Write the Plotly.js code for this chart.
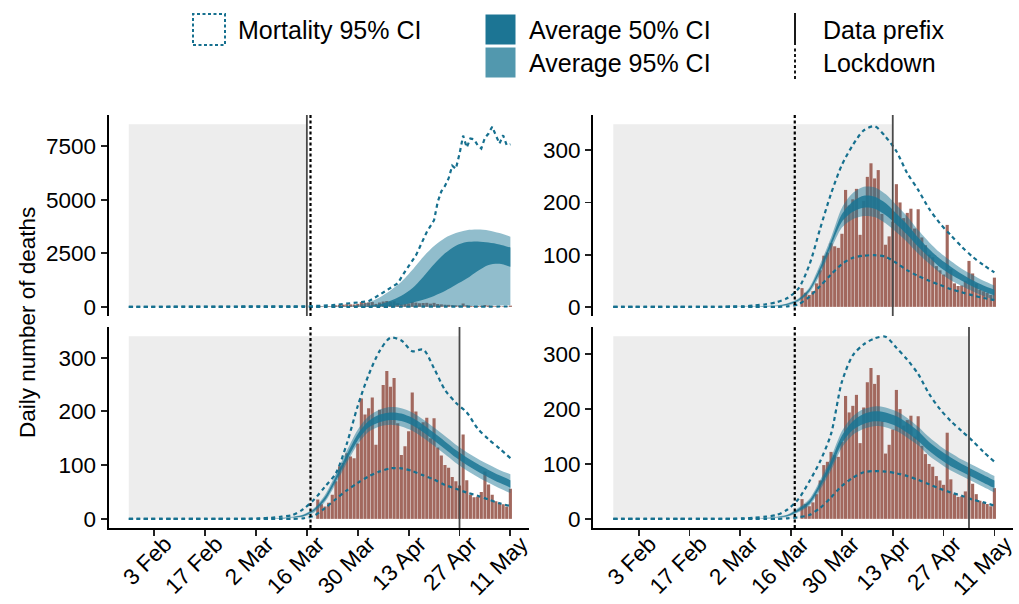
<!DOCTYPE html>
<html><head><meta charset="utf-8">
<script src="https://cdn.plot.ly/plotly-3.0.1.min.js"></script>
<style>html,body{margin:0;padding:0;background:#fff}#chart{width:1019px;height:604px}</style>
</head><body><div id="chart"></div>
<script>
// ---------- data ----------
const barDates = ['2020-03-19','2020-03-20','2020-03-21','2020-03-22','2020-03-23','2020-03-24','2020-03-25','2020-03-26','2020-03-27','2020-03-28','2020-03-29','2020-03-30','2020-03-31',
'2020-04-01','2020-04-02','2020-04-03','2020-04-04','2020-04-05','2020-04-06','2020-04-07','2020-04-08','2020-04-09','2020-04-10','2020-04-11','2020-04-12','2020-04-13','2020-04-14','2020-04-15',
'2020-04-16','2020-04-17','2020-04-18','2020-04-19','2020-04-20','2020-04-21','2020-04-22','2020-04-23','2020-04-24','2020-04-25','2020-04-26','2020-04-27','2020-04-28','2020-04-29','2020-04-30',
'2020-05-01','2020-05-02','2020-05-03','2020-05-04','2020-05-05','2020-05-06','2020-05-07','2020-05-08','2020-05-09','2020-05-10','2020-05-11'];
const observedDeaths = [36,27,23,30,45,70,98,104,122,116,113,140,224,194,206,226,138,203,249,275,246,262,178,119,135,163,235,200,170,180,188,150,187,133,118,100,95,78,70,62,157,72,45,40,41,50,88,64,45,33,30,27,23,56];

const curveDates = ['2020-01-27','2020-01-30','2020-02-02','2020-02-05','2020-02-08','2020-02-11','2020-02-14','2020-02-17','2020-02-20','2020-02-23','2020-02-26','2020-02-29',
'2020-03-03','2020-03-06','2020-03-09','2020-03-12','2020-03-15','2020-03-18','2020-03-21','2020-03-24','2020-03-27','2020-03-30','2020-04-02','2020-04-05',
'2020-04-08','2020-04-11','2020-04-14','2020-04-17','2020-04-20','2020-04-23','2020-04-26','2020-04-29','2020-05-02','2020-05-05','2020-05-08','2020-05-11'];

// panel 1 (prefix 16 Mar)
const p1HiDates = ['2020-01-27','2020-02-15','2020-03-01','2020-03-10','2020-03-17','2020-03-23','2020-03-28','2020-04-02','2020-04-04','2020-04-07','2020-04-10','2020-04-12','2020-04-15','2020-04-18',
'2020-04-20','2020-04-21','2020-04-22','2020-04-23','2020-04-24','2020-04-25','2020-04-26','2020-04-27','2020-04-28','2020-04-29','2020-04-30','2020-05-01','2020-05-02','2020-05-03','2020-05-04',
'2020-05-05','2020-05-06','2020-05-07','2020-05-08','2020-05-09','2020-05-10','2020-05-11'];
const p1MortHi = [0,0,2,8,30,78,160,260,460,780,1100,1650,2400,3500,4050,4900,5400,5650,6000,6600,6450,7150,8000,7450,7870,7830,7550,7400,7900,8100,8420,8020,7630,8020,7560,7600];
const p1MortLo = [0,0,0,0,0,0,0,0,0,0,0,0,0,0,0,0,0,0,0,0,1,2,2,3,4,5,6,8,9,10,12,13,14,15,16,17];
const p1Ci95Hi = [0,0,0,0,0,0,0,0,0,0,0,0,0,0,0,0,2,8,15,25,40,90,200,440,760,1170,1720,2330,2840,3220,3450,3580,3610,3570,3450,3280];
const p1Ci95Lo = [0,0,0,0,0,0,0,0,0,0,0,0,0,0,0,0,0,0,0,0,0,0,0,0,0,0,0,0,10,18,28,38,50,58,66,70];
const p1Ci50Hi = [0,0,0,0,0,0,0,0,0,0,0,0,0,0,0,0,0,0,0,3,5,15,45,120,290,520,870,1400,1990,2500,2860,3030,3060,3010,2920,2770];
const p1Ci50Lo = [0,0,0,0,0,0,0,0,0,0,0,0,0,0,0,0,0,0,0,0,0,5,10,20,40,90,190,330,510,740,1030,1320,1680,1960,2010,1870];

// panel 2 (prefix 13 Apr)
const p2MortHi = [0,0,0,0,0,0,0,0,0,0,0,1,1,3,5,9,17,35,80,150,217,272,310,338,346,326,298,256,224,188,160,137,115,96,80,66];
const p2MortLo = [0,0,0,0,0,0,0,0,0,0,0,0,0,0,0,0,1,5,19,40,62,82,94,98,99,96,84,70,59,50,42,34,28,22,17,13];
const p2Ci95Hi = [0,0,0,0,0,0,0,0,0,0,0,0,1,1,2,3,7,16,37,82,133,190,218,230,229,216,195,173,147,124,104,88,73,61,50,41];
const p2Ci95Lo = [0,0,0,0,0,0,0,0,0,0,0,0,0,0,0,1,3,10,27,62,110,152,168,174,172,160,143,124,102,83,65,51,40,30,21,14];
const p2Ci50Hi = [0,0,0,0,0,0,0,0,0,0,0,0,0,0,1,2,6,14,34,76,126,178,202,213,211,199,179,158,133,111,92,77,63,51,41,33];
const p2Ci50Lo = [0,0,0,0,0,0,0,0,0,0,0,0,0,0,1,2,4,12,30,68,117,163,182,190,188,176,158,138,115,95,76,62,50,39,30,22];

// panel 3 (prefix 27 Apr)
const p3MortHi = [0,0,0,0,0,0,0,0,0,0,0,0,1,2,4,7,18,36,60,85,140,210,268,312,337,332,312,315,280,240,216,198,168,148,131,113];
const p3MortLo = [0,0,0,0,0,0,0,0,0,0,0,0,0,0,0,0,1,6,20,37,53,67,79,88,94,94,89,81,73,63,56,49,43,36,29,24];
const p3Ci95Hi = [0,0,0,0,0,0,0,0,0,0,0,0,0,0,2,4,8,20,45,84,127,166,191,203,208,206,198,185,170,154,138,124,112,101,91,83];
const p3Ci95Lo = [0,0,0,0,0,0,0,0,0,0,0,0,0,0,0,2,4,12,32,66,104,139,162,172,175,172,164,151,136,120,104,90,78,67,57,48];
const p3Ci50Hi = [0,0,0,0,0,0,0,0,0,0,0,0,0,0,1,3,7,18,41,79,120,158,182,194,198,196,188,175,160,144,128,114,102,91,81,72];
const p3Ci50Lo = [0,0,0,0,0,0,0,0,0,0,0,0,0,0,1,3,5,15,35,71,110,146,170,180,184,182,174,161,146,130,114,100,88,77,67,58];

// panel 4 (prefix 4 May)
const p4MortHi = [0,0,0,0,0,0,0,0,0,0,0,0,1,2,4,7,17,36,68,105,155,250,298,318,329,332,312,290,264,228,200,178,160,142,122,104];
const p4MortLo = [0,0,0,0,0,0,0,0,0,0,0,0,0,0,0,0,1,3,7,20,39,60,75,85,87,86,83,78,71,63,55,48,42,35,30,24];
const p4Ci95Hi = [0,0,0,0,0,0,0,0,0,0,0,0,0,0,2,4,8,20,36,71,112,160,187,200,205,203,196,184,168,149,133,120,108,98,88,78];
const p4Ci95Lo = [0,0,0,0,0,0,0,0,0,0,0,0,0,0,0,2,4,12,24,53,88,130,153,164,169,167,160,148,134,115,101,88,78,68,58,48];
const p4Ci50Hi = [0,0,0,0,0,0,0,0,0,0,0,0,0,0,1,3,7,18,33,66,106,152,178,191,196,194,187,175,160,140,125,112,100,90,80,70];
const p4Ci50Lo = [0,0,0,0,0,0,0,0,0,0,0,0,0,0,1,3,5,14,27,58,94,138,162,173,178,176,169,157,142,124,109,96,86,76,66,56];

const prefixDates = ['2020-03-16','2020-04-13','2020-04-27','2020-05-04'];
const lockdownDate = '2020-03-17';
const greyStart = '2020-01-27';
const greyTops = [8540, 350, 340, 333];

const xTickDates = ['2020-02-03','2020-02-17','2020-03-02','2020-03-16','2020-03-30','2020-04-13','2020-04-27','2020-05-11'];
const xTickLabels = ['3 Feb','17 Feb','2 Mar','16 Mar','30 Mar','13 Apr','27 Apr','11 May'];
const yTicksTop = [0,2500,5000,7500];
const yTicksOther = [0,100,200,300];

const legendLabels = ['Mortality 95% CI','Average 50% CI','Average 95% CI','Data prefix','Lockdown'];
const yTitle = 'Daily number of deaths';

// ---------- styles ----------
const W = 1019, H = 604;
const PX = v => v / W, PY = v => 1 - v / H;
const FONT = 'Liberation Sans, Arial, Helvetica, sans-serif';
const teal = '#16708f';
const fill95 = 'rgba(26,117,148,0.48)';
const fill50 = 'rgba(26,117,148,0.85)';
const barColor = '#a2685e';
const mortDash = '4px,3.5px';
const TICK_SIZE = 22.5;

const panels = [
  {xa:'x', ya:'y', hiX:p1HiDates, hi:p1MortHi, lo:p1MortLo, c95h:p1Ci95Hi, c95l:p1Ci95Lo, c50h:p1Ci50Hi, c50l:p1Ci50Lo},
  {xa:'x2', ya:'y2', hiX:curveDates, hi:p2MortHi, lo:p2MortLo, c95h:p2Ci95Hi, c95l:p2Ci95Lo, c50h:p2Ci50Hi, c50l:p2Ci50Lo},
  {xa:'x3', ya:'y3', hiX:curveDates, hi:p3MortHi, lo:p3MortLo, c95h:p3Ci95Hi, c95l:p3Ci95Lo, c50h:p3Ci50Hi, c50l:p3Ci50Lo},
  {xa:'x4', ya:'y4', hiX:curveDates, hi:p4MortHi, lo:p4MortLo, c95h:p4Ci95Hi, c95l:p4Ci95Lo, c50h:p4Ci50Hi, c50l:p4Ci50Lo}
];

const traces = [];
panels.forEach((p, i) => {
  traces.push({type:'bar', x:barDates, y:observedDeaths, xaxis:p.xa, yaxis:p.ya,
    width: 0.86*86400000, marker:{color:barColor, line:{width:0}}, hoverinfo:'skip', showlegend:false});
  const band = (lo, hi, col) => {
    traces.push({type:'scatter', mode:'lines', x:curveDates, y:lo, xaxis:p.xa, yaxis:p.ya,
      line:{width:0, shape:'spline', smoothing:0.8}, hoverinfo:'skip', showlegend:false});
    traces.push({type:'scatter', mode:'lines', x:curveDates, y:hi, xaxis:p.xa, yaxis:p.ya, fill:'tonexty', fillcolor:col,
      line:{width:0, shape:'spline', smoothing:0.8}, hoverinfo:'skip', showlegend:false});
  };
  band(p.c95l, p.c95h, fill95);
  band(p.c50l, p.c50h, fill50);
  traces.push({type:'scatter', mode:'lines', x:curveDates, y:p.lo, xaxis:p.xa, yaxis:p.ya,
    line:{color:teal, width:2.2, dash:mortDash, shape:'spline', smoothing:0.8}, hoverinfo:'skip', showlegend:false});
  traces.push({type:'scatter', mode:'lines', x:p.hiX, y:p.hi, xaxis:p.xa, yaxis:p.ya,
    line:{color:teal, width:2.2, dash:mortDash, shape: i===0 ? 'linear' : 'spline', smoothing:0.8}, hoverinfo:'skip', showlegend:false});
});

const xRange = ['2020-01-21 10:00','2020-05-16 03:00'];
const colL = [PX(108.5), PX(529)], colR = [PX(593), PX(1013)];
const rowT = [PY(316), PY(115)], rowB = [PY(528), PY(327)];
const yRanges = [[-427, 8967], [-17.5, 367.5], [-17, 357], [-16.7, 349.7]];

function xAxis(domain, anchor, bottom){
  return {domain, anchor, type:'date', range:xRange, showgrid:false, zeroline:false,
    showline:bottom, linecolor:'#000', linewidth:2,
    ticks: bottom ? 'outside' : '', ticklen:6, tickwidth:1.8, tickcolor:'#222',
    tickmode:'array', tickvals:xTickDates, ticktext:xTickLabels, showticklabels:bottom,
    tickangle:-45, ticklabelstandoff:-14, ticklabelshift:11,
    tickfont:{family:FONT, size:TICK_SIZE, color:'#000'}, fixedrange:true};
}
function yAxis(domain, anchor, range, tv){
  return {domain, anchor, range, showgrid:false, zeroline:false, showline:true, linecolor:'#000', linewidth:2,
    ticks:'outside', ticklen:6, tickwidth:1.8, tickcolor:'#222', tickmode:'array', tickvals:tv,
    tickfont:{family:FONT, size:TICK_SIZE, color:'#000'}, fixedrange:true};
}

const shapes = [];
const annotations = [];
panels.forEach((p, i) => {
  shapes.push({type:'rect', xref:p.xa, yref:p.ya, x0:greyStart, x1:prefixDates[i], y0:0, y1:greyTops[i],
    fillcolor:'#ededed', line:{width:0}, layer:'below'});
  shapes.push({type:'line', xref:p.xa, yref:p.ya + ' domain', x0:lockdownDate, x1:lockdownDate, y0:0, y1:1,
    line:{color:'#000', width:2.2, dash:'3px,2.5px'}, layer:'above'});
  shapes.push({type:'line', xref:p.xa, yref:p.ya + ' domain', x0:prefixDates[i], x1:prefixDates[i], y0:0, y1:1,
    line:{color:'#4a4a4a', width:1.8}, layer:'above'});
});

// legend drawn in paper space
shapes.push({type:'rect', xref:'paper', yref:'paper', x0:PX(193), x1:PX(225), y0:PY(45), y1:PY(14),
  line:{color:teal, width:2, dash:'3px,2.5px'}, fillcolor:'rgba(0,0,0,0)'});
shapes.push({type:'rect', xref:'paper', yref:'paper', x0:PX(485), x1:PX(516), y0:PY(45), y1:PY(14),
  line:{color:'#ffffff', width:1}, fillcolor:'#1c7594'});
shapes.push({type:'rect', xref:'paper', yref:'paper', x0:PX(485), x1:PX(516), y0:PY(78), y1:PY(47),
  line:{color:'#ffffff', width:1}, fillcolor:'#5298ae'});
shapes.push({type:'line', xref:'paper', yref:'paper', x0:PX(795), x1:PX(795), y0:PY(45), y1:PY(13),
  line:{color:'#000', width:1.8}});
shapes.push({type:'line', xref:'paper', yref:'paper', x0:PX(795), x1:PX(795), y0:PY(79), y1:PY(47),
  line:{color:'#000', width:1.8, dash:'3px,2.5px'}});
const legPos = [[236,30],[527,30],[527,63],[821,30],[821,63]];
legendLabels.forEach((t, i) => {
  annotations.push({xref:'paper', yref:'paper', x:PX(legPos[i][0]), y:PY(legPos[i][1]), xanchor:'left', yanchor:'middle',
    text:t, showarrow:false, font:{family:FONT, size:25, color:'#000'}});
});
annotations.push({xref:'paper', yref:'paper', x:PX(27), y:PY(323), xanchor:'center', yanchor:'middle', textangle:-90,
  text:yTitle, showarrow:false, font:{family:FONT, size:22.5, color:'#000'}});

const layout = {
  width:W, height:H, margin:{l:0, r:0, t:0, b:0}, paper_bgcolor:'#fff', plot_bgcolor:'rgba(0,0,0,0)',
  showlegend:false, barmode:'overlay', font:{family:FONT, color:'#000'},
  xaxis: xAxis(colL, 'y', false), yaxis: yAxis(rowT, 'x', yRanges[0], yTicksTop),
  xaxis2: xAxis(colR, 'y2', false), yaxis2: yAxis(rowT, 'x2', yRanges[1], yTicksOther),
  xaxis3: xAxis(colL, 'y3', true), yaxis3: yAxis(rowB, 'x3', yRanges[2], yTicksOther),
  xaxis4: xAxis(colR, 'y4', true), yaxis4: yAxis(rowB, 'x4', yRanges[3], yTicksOther),
  shapes, annotations
};
Plotly.newPlot('chart', traces, layout, {staticPlot:true, displayModeBar:false});
</script></body></html>
